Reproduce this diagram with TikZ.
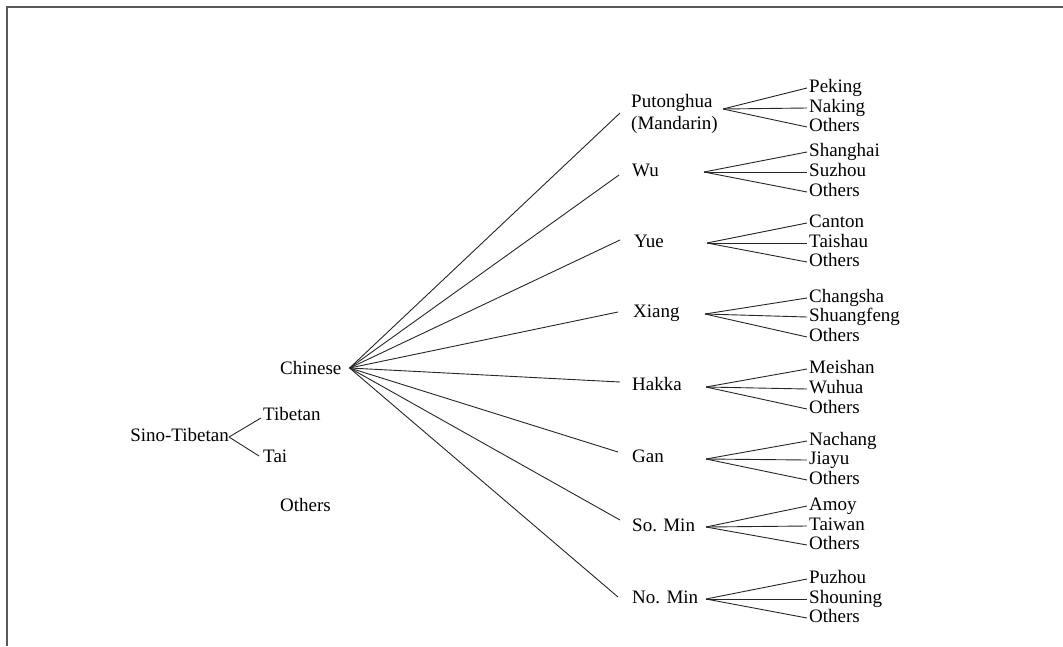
\documentclass[tikz,border=0pt]{standalone}
\usepackage{fontspec}
\setmainfont{Liberation Serif}
\begin{document}
\begin{tikzpicture}[x=1pt,y=-1pt,
  font=\fontsize{19}{21}\selectfont,
  lbl/.style={inner sep=0pt, text height=0.9em, text depth=0.1em, anchor=west},
  conn/.style={draw=black!85, line width=0.9pt},
  framel/.style={draw=black!65, line width=1.6pt}]
\useasboundingbox (0,0) rectangle (1063,646);
\draw[framel] (7,646) -- (7,7) -- (1063,7);

% left part
\node[lbl, anchor=east] (st) at (229,437) {Sino-Tibetan};
\node[lbl] (tib) at (263,416) {Tibetan};
\node[lbl] (tai) at (263,458) {Tai};
\node[lbl] (oth) at (280,507) {Others};
\node[lbl] (chi) at (280,370) {Chinese};
\coordinate (chiF) at ([xshift=8pt,yshift=2pt]chi.east);
\draw[conn] (st.east) -- ([xshift=-2pt,yshift=-2pt]tib.west);
\draw[conn] (st.east) -- ([xshift=-4pt,yshift=2pt]tai.west);

% middle level
\node[inner sep=0pt, anchor=west, align=left] (pu) at (631,114) {Putonghua\\[1pt](Mandarin)};
\node[lbl] (wu)  at (632,172) {Wu};
\node[lbl] (yue) at (634,243) {Yue};
\node[lbl] (xia) at (633,313) {Xiang};
\node[lbl] (hak) at (632,386) {Hakka};
\node[lbl] (gan) at (632,458) {Gan};
\node[lbl] (som) at (632,527) {So. Min};
\node[lbl] (nom) at (632,599) {No. Min};

\draw[conn] (chiF) -- ([xshift=-11pt,yshift=1pt]pu.west);
\draw[conn] (chiF) -- ([xshift=-13pt,yshift=-3pt]wu.west);
\draw[conn] (chiF) -- ([xshift=-14pt,yshift=3pt]yue.west);
\draw[conn] (chiF) -- ([xshift=-15pt,yshift=1pt]xia.west);
\draw[conn] (chiF) -- ([xshift=-12pt,yshift=4pt]hak.west);
\draw[conn] (chiF) -- ([xshift=-14pt,yshift=6pt]gan.west);
\draw[conn] (chiF) -- ([xshift=-12pt,yshift=7pt]som.west);
\draw[conn] (chiF) -- ([xshift=-14pt,yshift=2pt]nom.west);

% fan points
\coordinate (puF)  at (723,109);
\coordinate (wuF)  at (704,172);
\coordinate (yueF) at (707,243);
\coordinate (xiaF) at (705,314);
\coordinate (hakF) at (706,387);
\coordinate (ganF) at (706,459);
\coordinate (somF) at (706,527);
\coordinate (nomF) at (706,599);

% leaves
\foreach \p/\a/\b/\c/\ya/\yb/\yc/\na/\nb/\nc in {
  pu/Peking/Naking/Others/88/108/127/pua/pub/puc,
  wu/Shanghai/Suzhou/Others/152/172/192/wua/wub/wuc,
  yue/Canton/Taishau/Others/223/243/262/yuea/yueb/yuec,
  xia/Changsha/Shuangfeng/Others/298/317/337/xiaa/xiab/xiac,
  hak/Meishan/Wuhua/Others/369/389/409/haka/hakb/hakc,
  gan/Nachang/Jiayu/Others/441/460/480/gana/ganb/ganc,
  som/Amoy/Taiwan/Others/506/526/545/soma/somb/somc,
  nom/Puzhou/Shouning/Others/579/599/618/noma/nomb/nomc}{
  \node[lbl] (\na) at (809,\ya) {\a};
  \node[lbl] (\nb) at (809,\yb) {\b};
  \node[lbl] (\nc) at (809,\yc) {\c};
  \draw[conn] (\p F) -- ([xshift=-2pt]\na.west);
  \draw[conn] (\p F) -- ([xshift=-2pt]\nb.west);
  \draw[conn] (\p F) -- ([xshift=-2pt]\nc.west);
}
\end{tikzpicture}
\end{document}
